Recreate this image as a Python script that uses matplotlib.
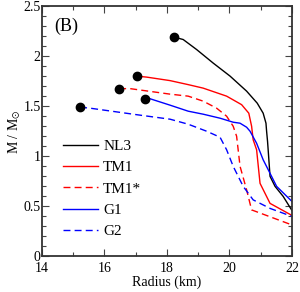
import matplotlib
matplotlib.use("Agg")
import matplotlib.pyplot as plt
from matplotlib.ticker import MultipleLocator

plt.rcParams['font.family'] = ['Liberation Serif', 'DejaVu Serif']
plt.rcParams['mathtext.fontset'] = 'stix'

# NL3
nl3_r = [18.22, 18.52, 18.95, 19.48, 20.02, 20.55, 20.89, 21.08, 21.17, 21.19, 21.22, 21.24, 21.30, 21.46, 21.72, 22.0]
nl3_m = [2.19, 2.165, 2.065, 1.93, 1.80, 1.65, 1.53, 1.43, 1.33, 1.25, 1.15, 1.065, 0.80, 0.70, 0.60, 0.46]
# TM1
tm1_r = [17.03, 17.35, 18.10, 18.68, 19.16, 19.91, 20.39, 20.62, 20.71, 20.76, 20.87, 20.98, 21.30, 22.0]
tm1_m = [1.80, 1.79, 1.755, 1.715, 1.68, 1.60, 1.515, 1.43, 1.30, 1.165, 1.065, 0.73, 0.53, 0.41]
# TM1*
tm1s_r = [16.47, 16.82, 18.10, 18.68, 19.16, 19.59, 19.91, 20.12, 20.23, 20.34, 20.55, 20.71, 22.0]
tm1s_m = [1.675, 1.675, 1.62, 1.60, 1.55, 1.48, 1.40, 1.30, 1.20, 0.90, 0.665, 0.465, 0.315]
# G1
g1_r = [17.30, 17.45, 18.10, 18.68, 19.16, 19.70, 20.12, 20.34, 20.55, 20.66, 20.87, 21.08, 21.30, 21.51, 22.0]
g1_m = [1.575, 1.575, 1.51, 1.45, 1.42, 1.38, 1.34, 1.33, 1.29, 1.25, 1.13, 0.965, 0.83, 0.70, 0.55]
# G2
g2_r = [15.22, 15.54, 17.03, 18.10, 18.68, 19.27, 19.70, 19.91, 20.12, 20.44, 20.76, 21.30, 22.0]
g2_m = [1.49, 1.48, 1.415, 1.37, 1.32, 1.25, 1.19, 1.065, 0.90, 0.70, 0.565, 0.48, 0.40]

series = [
    ("NL3", nl3_r, nl3_m, 'black', '-'),
    ("TM1", tm1_r, tm1_m, '#ff0000', '-'),
    ("TM1*", tm1s_r, tm1s_m, '#ff0000', (0, (5, 3))),
    ("G1", g1_r, g1_m, '#0000ff', '-'),
    ("G2", g2_r, g2_m, '#0000ff', (0, (5, 3))),
]

fig = plt.figure(figsize=(3.0, 2.92), dpi=100)
ax = fig.add_axes([0.14, 0.1216, 0.833, 0.858])

for name, r, m, c, ls in series:
    ax.plot(r, m, color=c, linestyle=ls, linewidth=1.0, label=name)
    ax.plot(r[0], m[0], 'o', color='black', markersize=6, zorder=5)

ax.set_xlim(14, 22)
ax.set_ylim(0, 2.5)
ax.xaxis.set_major_locator(MultipleLocator(2))
ax.xaxis.set_minor_locator(MultipleLocator(1))
ax.yaxis.set_minor_locator(MultipleLocator(0.1))
ax.set_yticks([0, 0.5, 1, 1.5, 2, 2.5])
ax.set_yticklabels(['0', '0.5', '1', '1.5', '2', '2.5'])
ax.tick_params(which='both', direction='in', top=True, right=True, labelsize=10, color='#444444')
ax.tick_params(which='major', length=5, width=0.8)
ax.tick_params(which='minor', length=3, width=0.8)
ax.tick_params(axis='x', pad=4)
ax.tick_params(axis='y', pad=1)
for s in ax.spines.values():
    s.set_linewidth(1.3)
    s.set_color('#333333')

ax.set_xlabel('Radius (km)', fontsize=10, labelpad=0)
ax.set_ylabel(r'M / M$_{\odot}$', fontsize=10, labelpad=0)
ax.text(0.05, 0.955, '(B)', transform=ax.transAxes, fontsize=13, va='top', ha='left')

ax.legend(loc='lower left', bbox_to_anchor=(0.04, 0.03), frameon=False, fontsize=11,
          handlelength=2.3, handletextpad=0.35, labelspacing=0.5, borderpad=0.2)

fig.savefig('out.png', dpi=100)
